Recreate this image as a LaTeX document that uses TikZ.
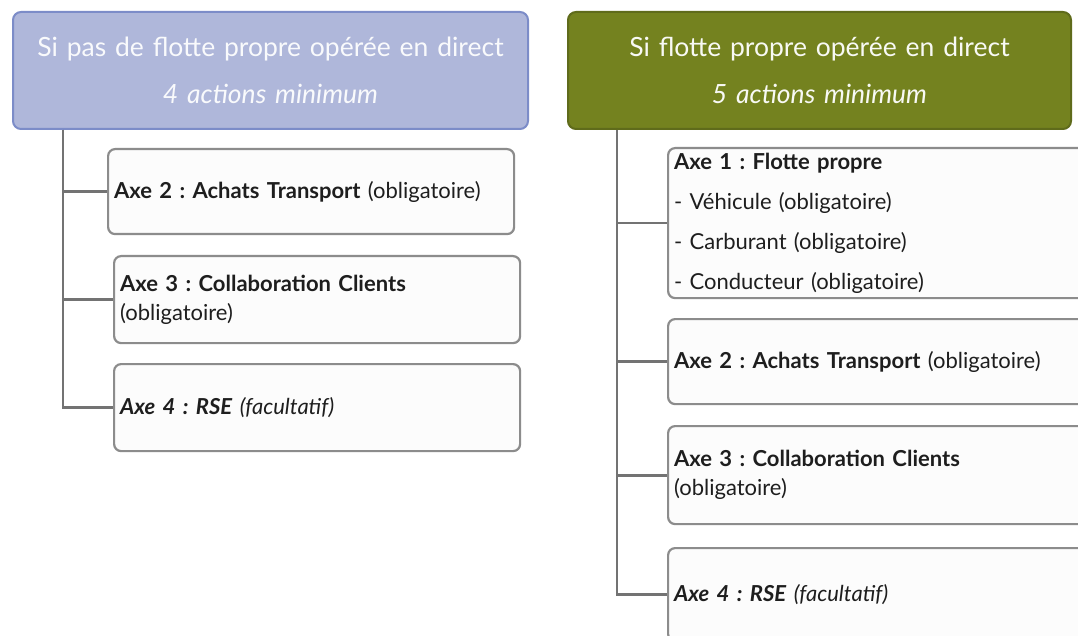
\documentclass[tikz,border=0pt]{standalone}
\usepackage{fontspec}
\setmainfont{Lato}
\usetikzlibrary{positioning}
\frenchspacing

\definecolor{bleufond}{HTML}{AFB7DA}
\definecolor{bleubord}{HTML}{7C8CC8}
\definecolor{vertfond}{HTML}{74821F}
\definecolor{vertbord}{HTML}{5F6B1B}
\definecolor{grisbord}{HTML}{8C8C8C}
\definecolor{grislien}{HTML}{737373}
\definecolor{fondaxe}{HTML}{FCFCFC}
\definecolor{texte}{HTML}{1E1E1E}

\tikzset{
  entete/.style={rectangle, rounded corners=8pt, line width=2pt, anchor=north west, inner sep=0pt, minimum height=117pt, align=center, font=\fontsize{26.5}{47}\selectfont},
  axe/.style={rectangle, rounded corners=7pt, draw=grisbord, fill=fondaxe, line width=2.2pt, anchor=north west, inner xsep=6pt, inner ysep=0pt, align=left, text=texte, font=\fontsize{22}{29}\selectfont},
  lien/.style={draw=grislien, line width=2.8pt}
}

\begin{document}
\begin{tikzpicture}[x=1pt, y=-1pt]
  \clip (0,0) rectangle (1078,636);
  \fill[white] (0,0) rectangle (1078,636);

  % Sans flotte propre
  \node[entete, draw=bleubord, fill=bleufond, text=white!93!bleufond, text width=515pt] (gauche) at (12,11) {Si pas de flotte propre opérée en direct\\\textit{4 actions minimum}};
  \node[axe, text width=394pt, minimum height=85pt] (g2) at (107,148) {\textbf{Axe 2 : Achats Transport} (obligatoire)};
  \node[axe, text width=394pt, minimum height=87pt] (g3) at (113,255) {\textbf{Axe 3 : Collaboration Clients}\\(obligatoire)};
  \node[axe, text width=394pt, minimum height=87pt] (g4) at (113,363) {\textbf{\textit{Axe 4 : RSE}} \textit{(facultatif)}};

  % Avec flotte propre
  \node[entete, draw=vertbord, fill=vertfond, text=white!95!vertfond, text width=503pt] (droite) at (567,11) {Si flotte propre opérée en direct\\\textit{5 actions minimum}};
  \node[axe, text width=420pt, minimum height=150pt, font=\fontsize{22}{40}\selectfont] (d1) at (667,147) {\textbf{Axe 1 : Flotte propre}\\- Véhicule (obligatoire)\\- Carburant (obligatoire)\\- Conducteur (obligatoire)};
  \node[axe, text width=420pt, minimum height=85pt] (d2) at (667,318) {\textbf{Axe 2 : Achats Transport} (obligatoire)};
  \node[axe, text width=420pt, minimum height=98pt] (d3) at (667,425) {\textbf{Axe 3 : Collaboration Clients}\\(obligatoire)};
  \node[axe, text width=420pt, minimum height=93pt] (d4) at (667,547) {\textbf{\textit{Axe 4 : RSE}} \textit{(facultatif)}};

  % Liaisons
  \draw[lien] ([xshift=51pt]gauche.south west) |- (g2.west);
  \draw[lien] ([xshift=51pt]gauche.south west) |- (g3.west);
  \draw[lien] ([xshift=51pt]gauche.south west) |- (g4.west);
  \draw[lien] ([xshift=50pt]droite.south west) |- (d1.west);
  \draw[lien] ([xshift=50pt]droite.south west) |- (d2.west);
  \draw[lien] ([xshift=50pt]droite.south west) |- (d3.west);
  \draw[lien] ([xshift=50pt]droite.south west) |- (d4.west);
\end{tikzpicture}
\end{document}
